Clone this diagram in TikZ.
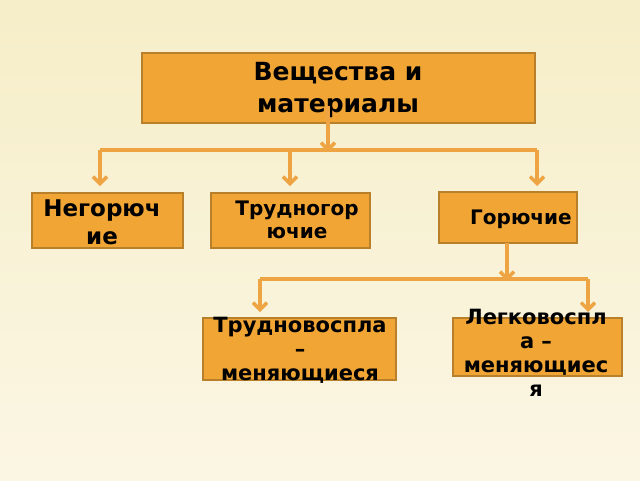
\documentclass[tikz,border=0pt]{standalone}
\usepackage{fontspec}
\setmainfont{DejaVu Sans}
\usetikzlibrary{arrows.meta, positioning}
\definecolor{boxfill}{HTML}{F0A535}
\definecolor{boxline}{HTML}{B8802A}
\definecolor{wire}{HTML}{EFA443}
\definecolor{bgtop}{HTML}{F6EEC8}
\definecolor{bgbot}{HTML}{FBF6E4}

\begin{document}
\begin{tikzpicture}[
            x = 1pt, y = -1pt,
            > = {Straight Barb[length=7pt, width=14pt]}, % chevron tip
            box/.style = {draw = boxline, fill = boxfill, line width = 1.5pt},
            label/.style = {font = \bfseries, align = center, inner sep = 0pt},
            wire/.style = {draw = wire, line width = 3.5pt}
        ]

        % background
        \shade[top color = bgtop, bottom color = bgbot] (0,0) rectangle (640,480);
        \useasboundingbox (0,0) rectangle (640,480);

        % boxes
        \path[box] (142,53) rectangle (535,123);
        \path[box] (32,193) rectangle (183,248);
        \path[box] (211,193) rectangle (370,248);
        \path[box] (439,192) rectangle (577,243);
        \path[box] (203,318) rectangle (396,380);
        \path[box] (453,318) rectangle (622,376);

        \node[label, font = \bfseries\fontsize{25}{32}\selectfont] (root) at (338,90) {Вещества и\\материалы};
        \node[label, font = \bfseries\fontsize{23}{28}\selectfont] (non) at (102,222) {Негорюч\\ие};
        \node[label, font = \bfseries\fontsize{20}{23}\selectfont] (hard) at (297,220) {Трудногор\\ючие};
        \node[label, font = \bfseries\fontsize{20}{23}\selectfont] (burn) at (521,219) {Горючие};
        \node[label, font = \bfseries\fontsize{21}{24}\selectfont] (slow) at (300,350) {Трудновоспла\\–\\меняющиеся};
        \node[label, font = \bfseries\fontsize{21}{24}\selectfont] (fast) at (536,353) {Легковоспл\\а –\\меняющиес\\я};

        % connectors
        \coordinate (busA) at (328,150);
        \coordinate (busB) at (507,279);
        \draw[wire, ->] (root.south -| busA) ++(0,-12) -- ([yshift=-2pt]busA);
        \draw[wire] (100,150) -- (537,150);
        \draw[wire, ->] (busA -| 100,0) -- (100,186);
        \draw[wire, ->] (busA -| 290,0) -- (290,186);
        \draw[wire, ->] (busA -| 537,0) -- (537,186);

        \draw[wire, ->] (507,243) -- ([yshift=-2pt]busB);
        \draw[wire] (260,279) -- (588,279);
        \draw[wire, ->] (busB -| 260,0) -- (260,312);
        \draw[wire, ->] (busB -| 588,0) -- (588,312);

    \end{tikzpicture}
\end{document}
